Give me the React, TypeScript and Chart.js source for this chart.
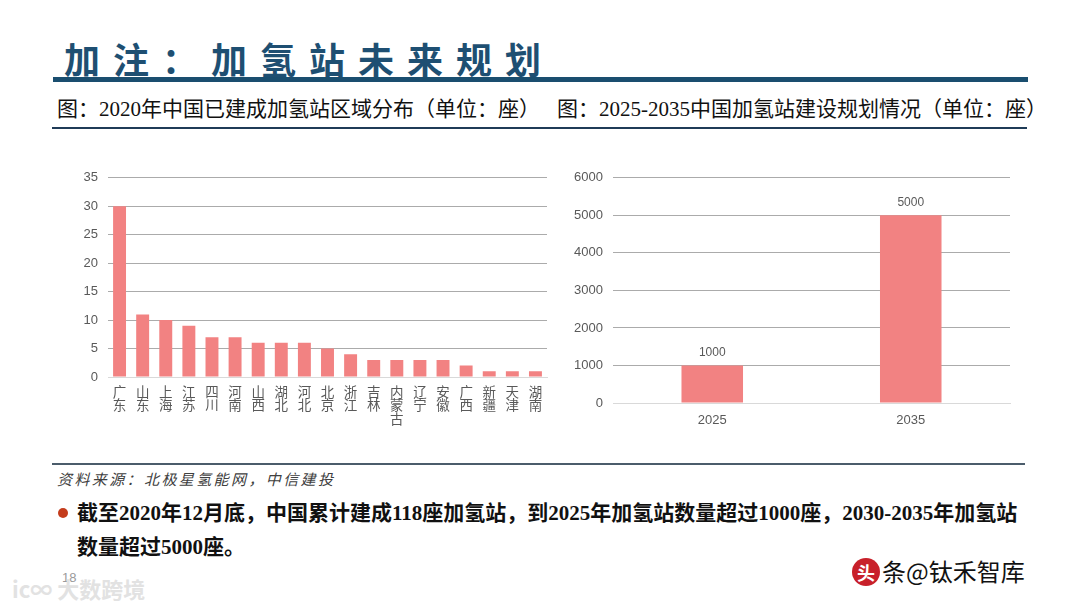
import React, { useEffect, useRef } from "react";
import { Chart, registerables } from "chart.js";

Chart.register(...registerables);

// ---- data ----
const provinces = ["广东", "山东", "上海", "江苏", "四川", "河南", "山西", "湖北", "河北", "北京", "浙江", "吉林", "内蒙古", "辽宁", "安徽", "广西", "新疆", "天津", "湖南"];
const stations2020 = [30, 11, 10, 9, 7, 7, 6, 6, 6, 5, 4, 3, 3, 3, 3, 2, 1, 1, 1];
const leftAxisMax = 35;
const leftAxisStep = 5;

const planYears = ["2025", "2035"];
const planStations = [1000, 5000];
const rightAxisMax = 6000;
const rightAxisStep = 1000;

const BAR = "#F28282";
const TICK = "#595959";
const GRID = "#ababab";
const BASE = "#d9d9d9";
const FONT = '"Liberation Sans", "Noto Sans CJK SC", sans-serif';

const valueLabels = {
  id: "valueLabels",
  afterDatasetsDraw(chart: any) {
    const ctx = chart.ctx;
    const meta = chart.getDatasetMeta(0);
    const data = chart.data.datasets[0].data;
    ctx.save();
    ctx.fillStyle = TICK;
    ctx.font = `12px ${FONT}`;
    ctx.textAlign = "center";
    ctx.textBaseline = "bottom";
    meta.data.forEach((el: any, i: number) => {
      ctx.fillText(String(data[i]), el.x, el.y - 7);
    });
    ctx.restore();
  },
};

function LeftChart() {
  const ref = useRef<HTMLCanvasElement>(null);
  useEffect(() => {
    const chart = new Chart(ref.current!, {
      type: "bar",
      data: {
        labels: provinces.map((p) => p.split("")),
        datasets: [
          {
            data: stations2020,
            backgroundColor: BAR,
            barPercentage: 0.56,
            categoryPercentage: 1,
          },
        ],
      },
      options: {
        animation: false,
        responsive: false,
        maintainAspectRatio: false,
        layout: { padding: { top: 10, right: 5, left: 0, bottom: 0 } },
        plugins: { legend: { display: false }, tooltip: { enabled: false } },
        scales: {
          x: {
            grid: { display: false },
            border: { color: BASE },
            ticks: {
              color: TICK,
              font: { family: FONT, size: 13.5, lineHeight: 1.02 },
              padding: 1,
              maxRotation: 0,
              autoSkip: false,
            },
            afterFit: (s: any) => {
              s.height = 83;
            },
          },
          y: {
            min: 0,
            max: leftAxisMax,
            ticks: { stepSize: leftAxisStep, color: TICK, font: { family: FONT, size: 13 }, padding: 10 },
            grid: {
              drawTicks: false,
              color: (c: any) => (c.tick && c.tick.value === 0 ? BASE : GRID),
            },
            border: { display: false },
            afterFit: (s: any) => {
              s.width = 48;
            },
          },
        },
      },
    });
    return () => chart.destroy();
  }, []);
  return <canvas ref={ref} width={492} height={300} style={{ width: 492, height: 300 }} />;
}

function RightChart() {
  const ref = useRef<HTMLCanvasElement>(null);
  useEffect(() => {
    const chart = new Chart(ref.current!, {
      type: "bar",
      data: {
        labels: planYears,
        datasets: [
          {
            data: planStations,
            backgroundColor: BAR,
            barPercentage: 0.31,
            categoryPercentage: 1,
          },
        ],
      },
      options: {
        animation: false,
        responsive: false,
        maintainAspectRatio: false,
        layout: { padding: { top: 14, right: 5, left: 0, bottom: 0 } },
        plugins: { legend: { display: false }, tooltip: { enabled: false } },
        scales: {
          x: {
            grid: { display: false },
            border: { color: BASE },
            ticks: { color: TICK, font: { family: FONT, size: 13 }, padding: 2 },
            afterFit: (s: any) => {
              s.height = 27;
            },
          },
          y: {
            min: 0,
            max: rightAxisMax,
            ticks: {
              stepSize: rightAxisStep,
              color: TICK,
              font: { family: FONT, size: 13 },
              padding: 10,
              callback: (v: any) => String(v),
            },
            grid: {
              drawTicks: false,
              color: (c: any) => (c.tick && c.tick.value === 0 ? BASE : GRID),
            },
            border: { display: false },
            afterFit: (s: any) => {
              s.width = 53;
            },
          },
        },
      },
      plugins: [valueLabels],
    });
    return () => chart.destroy();
  }, []);
  return <canvas ref={ref} width={455} height={270} style={{ width: 455, height: 270 }} />;
}

const serif = '"Liberation Serif", "Noto Sans CJK SC", serif';

export default function App() {
  return (
    <div
      style={{
        position: "absolute",
        left: 0,
        top: 0,
        width: 1080,
        height: 608,
        background: "#ffffff",
        overflow: "hidden",
        fontFamily: serif,
      }}
    >
      {/* title */}
      <div
        style={{
          position: "absolute",
          left: 64,
          top: 40,
          fontFamily: '"Noto Sans CJK SC", sans-serif',
          fontWeight: 700,
          fontSize: 36,
          lineHeight: "36px",
          letterSpacing: 13,
          color: "#1e4f72",
          whiteSpace: "nowrap",
        }}
      >
        加注：加氢站未来规划
      </div>
      <div style={{ position: "absolute", left: 53, top: 77, width: 975, height: 5, background: "#1a4e6f" }} />

      {/* subtitles */}
      <div style={{ position: "absolute", left: 57, top: 98, fontSize: 21, lineHeight: "23px", color: "#111", whiteSpace: "nowrap" }}>
        图：2020年中国已建成加氢站区域分布（单位：座）
      </div>
      <div style={{ position: "absolute", left: 557, top: 98, fontSize: 21, lineHeight: "23px", color: "#111", whiteSpace: "nowrap" }}>
        图：2025-2035中国加氢站建设规划情况（单位：座）
      </div>
      <div style={{ position: "absolute", left: 52, top: 127, width: 975, height: 2, background: "#1f3b57" }} />

      {/* charts */}
      <div style={{ position: "absolute", left: 60, top: 160 }}>
        <LeftChart />
      </div>
      <div style={{ position: "absolute", left: 560, top: 160 }}>
        <RightChart />
      </div>

      {/* footer */}
      <div style={{ position: "absolute", left: 52, top: 463, width: 973, height: 2, background: "#4b5c6b" }} />
      <div
        style={{
          position: "absolute",
          left: 57,
          top: 471,
          fontSize: 15,
          lineHeight: "19px",
          fontStyle: "italic",
          color: "#404040",
          letterSpacing: 2.4,
          whiteSpace: "nowrap",
        }}
      >
        资料来源：北极星氢能网，中信建投
      </div>
      <div style={{ position: "absolute", left: 58, top: 508, width: 10, height: 10, borderRadius: 5, background: "#c43c1c" }} />
      <div
        style={{
          position: "absolute",
          left: 77,
          top: 496,
          width: 980,
          fontSize: 21,
          lineHeight: "34px",
          fontWeight: 700,
          color: "#111",
          whiteSpace: "nowrap",
        }}
      >
        截至2020年12月底，中国累计建成118座加氢站，到2025年加氢站数量超过1000座，2030-2035年加氢站
        <br />
        数量超过5000座。
      </div>

      {/* page number & watermarks */}
      <div style={{ position: "absolute", left: 62, top: 570, fontSize: 13, color: "#9a9a9a", fontFamily: FONT }}>18</div>
      <div
        style={{
          position: "absolute",
          left: 12,
          top: 572,
          fontSize: 22,
          color: "#e2e2e2",
          fontFamily: '"Noto Sans CJK SC", sans-serif',
          fontWeight: 700,
          whiteSpace: "nowrap",
        }}
      >
        ic∞ 大数跨境
      </div>
      <div
        style={{
          position: "absolute",
          left: 852,
          top: 558,
          width: 28,
          height: 28,
          borderRadius: 14,
          background: "#c8202a",
          color: "#fff",
          fontSize: 18,
          lineHeight: "28px",
          textAlign: "center",
          fontFamily: '"Noto Sans CJK SC", sans-serif',
          fontWeight: 700,
        }}
      >
        头
      </div>
      <div
        style={{
          position: "absolute",
          left: 882,
          top: 556,
          fontSize: 24,
          lineHeight: "30px",
          color: "#111",
          fontFamily: '"Noto Sans CJK SC", sans-serif',
          whiteSpace: "nowrap",
        }}
      >
        条@钛禾智库
      </div>
    </div>
  );
}
